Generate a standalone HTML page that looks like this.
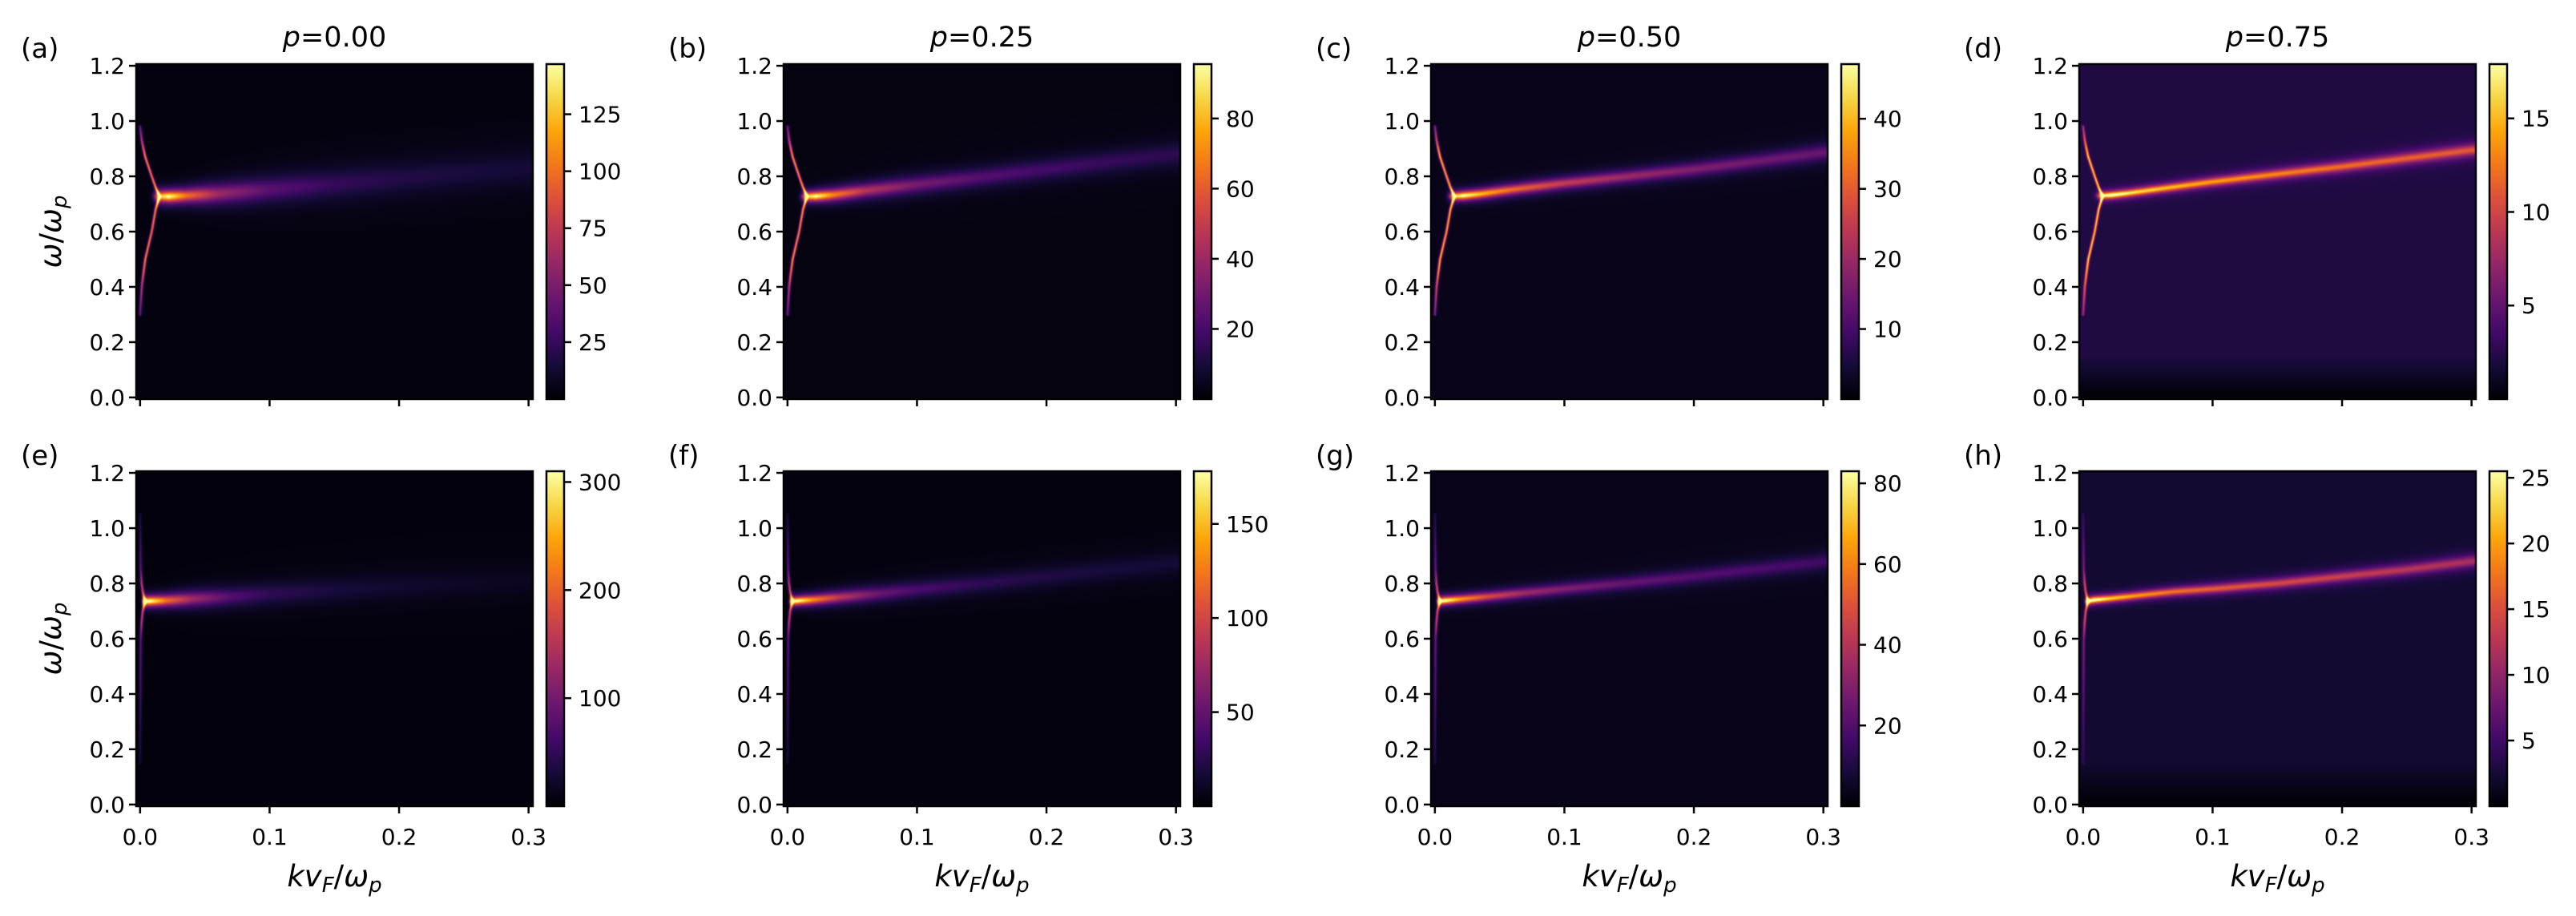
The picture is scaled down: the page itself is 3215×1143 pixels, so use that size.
<!DOCTYPE html>
<html><head><meta charset="utf-8">
<style>
html,body{margin:0;padding:0;background:#fff;}
#fig{position:relative;width:3215px;height:1143px;overflow:hidden;background:#fff;}
canvas{position:absolute;}
svg{position:absolute;left:0;top:0;}
text{font-family:"DejaVu Sans","Liberation Sans",sans-serif;fill:#000;}
</style></head>
<body>
<div id="fig">
<svg id="ov" width="3215" height="1143">
<defs>
<linearGradient id="inf" x1="0" y1="1" x2="0" y2="0">
<stop offset="0" stop-color="#000004"/><stop offset="0.1" stop-color="#160b39"/>
<stop offset="0.2" stop-color="#420a68"/><stop offset="0.3" stop-color="#6a176e"/>
<stop offset="0.4" stop-color="#932667"/><stop offset="0.5" stop-color="#bc3754"/>
<stop offset="0.6" stop-color="#dd513a"/><stop offset="0.7" stop-color="#f37819"/>
<stop offset="0.8" stop-color="#fca50a"/><stop offset="0.9" stop-color="#f6d746"/>
<stop offset="1" stop-color="#fcffa4"/>
</linearGradient>
</defs>
</svg>
</div>
<script>
// ---- data ----
const titles = ["0.00","0.25","0.50","0.75"];
const letters = ["a","b","c","d","e","f","g","h"];
const xTicks = [0, 0.1, 0.2, 0.3];
const xTickLabels = ["0.0","0.1","0.2","0.3"];
const yTicks = [0, 0.2, 0.4, 0.6, 0.8, 1.0, 1.2];
const yTickLabels = ["0.0","0.2","0.4","0.6","0.8","1.0","1.2"];
const vmaxes = [147, 95.5, 47.8, 17.9, 310, 178, 83, 25.5];
const cbTicksA = [25,50,75,100,125];
const cbTicksB = [20,40,60,80];
const cbTicksC = [10,20,30,40];
const cbTicksD = [5,10,15];
const cbTicksE = [100,200,300];
const cbTicksF = [50,100,150];
const cbTicksG = [20,40,60,80];
const cbTicksH = [5,10,15,20,25];
const bgFrac = [0.02, 0.025, 0.04, 0.12, 0.015, 0.02, 0.04, 0.085];

// top row band
const bandKTop = [0.015,0.022,0.035,0.06,0.1,0.15,0.2,0.25,0.3];
const ampA = [120,145,100,60,35,22,16,13,11];
const widA = [0.03,0.03,0.035,0.05,0.065,0.08,0.09,0.095,0.1];
const cenA = [0.727,0.727,0.73,0.737,0.752,0.772,0.792,0.812,0.83];
const ampB = [80,94,68,44,29,21,17,14,12];
const widB = [0.025,0.025,0.03,0.037,0.045,0.05,0.055,0.06,0.065];
const cenB = [0.727,0.728,0.733,0.748,0.77,0.797,0.825,0.853,0.88];
const ampC = [40,47,39,30,23,18,15,13,12];
const widC = [0.022,0.022,0.024,0.027,0.03,0.033,0.036,0.04,0.043];
const cenC = [0.728,0.73,0.736,0.752,0.775,0.8,0.825,0.855,0.886];
const ampD = [15,17.5,15,13.5,12,11,10,9.5,9];
const widD = [0.018,0.018,0.019,0.02,0.022,0.024,0.026,0.028,0.03];
const cenD = [0.73,0.732,0.739,0.755,0.78,0.808,0.835,0.865,0.895];
// top row fork
const forkKTop = [0,0.0013,0.0026,0.004,0.009,0.012,0.015];
const forkUpTop = [0.98,0.93,0.9,0.87,0.8,0.76,0.728];
const forkLoTop = [0.3,0.4,0.45,0.5,0.6,0.68,0.728];
const forkAmpTop = [0.35,0.6,0.8,0.9,0.85,0.9,0.95];

// bottom row band
const bandKBot = [0.003,0.008,0.02,0.04,0.07,0.1,0.15,0.2,0.25,0.3];
const ampE = [300,310,210,130,70,45,28,20,15,12];
const widE = [0.025,0.025,0.03,0.04,0.05,0.06,0.07,0.08,0.085,0.09];
const cenE = [0.735,0.736,0.738,0.744,0.752,0.762,0.776,0.79,0.8,0.81];
const ampF = [170,178,130,85,50,35,24,18,15,13];
const widF = [0.022,0.022,0.026,0.032,0.04,0.046,0.052,0.058,0.062,0.066];
const cenF = [0.735,0.737,0.741,0.75,0.763,0.778,0.8,0.825,0.85,0.875];
const ampG = [78,83,62,45,32,26,20,17,15,13];
const widG = [0.02,0.02,0.022,0.025,0.028,0.031,0.035,0.039,0.042,0.045];
const cenG = [0.735,0.738,0.743,0.752,0.766,0.78,0.802,0.826,0.852,0.878];
const ampH = [24,25.5,21,18,15.5,14,12.5,11.5,10.5,9.5];
const widH = [0.018,0.018,0.019,0.02,0.022,0.024,0.026,0.028,0.03,0.032];
const cenH = [0.735,0.74,0.745,0.755,0.77,0.78,0.8,0.825,0.85,0.88];
// bottom row fork
const forkKBot = [0,0.0005,0.0012,0.002,0.003,0.004];
const forkUpBot = [1.05,0.85,0.8,0.77,0.75,0.737];
const forkLoBot = [0.15,0.6,0.66,0.7,0.72,0.737];
const forkAmpBot = [0.1,0.35,0.65,0.7,0.75,0.8];

// ---- layout ----
const lefts = [170, 978, 1786, 2595];
const tops = [80, 588];
const PW = 495, PH = 418;
const X0 = -0.003, X1 = 0.3033, Y0 = -0.006, Y1 = 1.206;

const panels = [
 {amp:ampA,wid:widA,cen:cenA,k:bandKTop,fk:forkKTop,fu:forkUpTop,fl:forkLoTop,fa:forkAmpTop,fp:115,cb:cbTicksA},
 {amp:ampB,wid:widB,cen:cenB,k:bandKTop,fk:forkKTop,fu:forkUpTop,fl:forkLoTop,fa:forkAmpTop,fp:78,cb:cbTicksB},
 {amp:ampC,wid:widC,cen:cenC,k:bandKTop,fk:forkKTop,fu:forkUpTop,fl:forkLoTop,fa:forkAmpTop,fp:42,cb:cbTicksC},
 {amp:ampD,wid:widD,cen:cenD,k:bandKTop,fk:forkKTop,fu:forkUpTop,fl:forkLoTop,fa:forkAmpTop,fp:15.5,cb:cbTicksD},
 {amp:ampE,wid:widE,cen:cenE,k:bandKBot,fk:forkKBot,fu:forkUpBot,fl:forkLoBot,fa:forkAmpBot,fp:230,cb:cbTicksE},
 {amp:ampF,wid:widF,cen:cenF,k:bandKBot,fk:forkKBot,fu:forkUpBot,fl:forkLoBot,fa:forkAmpBot,fp:130,cb:cbTicksF},
 {amp:ampG,wid:widG,cen:cenG,k:bandKBot,fk:forkKBot,fu:forkUpBot,fl:forkLoBot,fa:forkAmpBot,fp:62,cb:cbTicksG},
 {amp:ampH,wid:widH,cen:cenH,k:bandKBot,fk:forkKBot,fu:forkUpBot,fl:forkLoBot,fa:forkAmpBot,fp:19,cb:cbTicksH}
];

const infStops = [[0,0,4],[22,11,57],[66,10,104],[106,23,110],[147,38,103],[188,55,84],[221,81,58],[243,120,25],[252,165,10],[246,215,70],[252,255,164]];
function inferno(t){
  t = Math.max(0, Math.min(1, t));
  const s = t*10, i = Math.min(9, Math.floor(s)), f = s - i;
  const a = infStops[i], b = infStops[i+1];
  return [a[0]+(b[0]-a[0])*f, a[1]+(b[1]-a[1])*f, a[2]+(b[2]-a[2])*f];
}
function interp(xs, ys, x){
  if (x <= xs[0]) return ys[0];
  for (let i=1;i<xs.length;i++) if (x <= xs[i]) { const f=(x-xs[i-1])/(xs[i]-xs[i-1]); return ys[i-1]+(ys[i]-ys[i-1])*f; }
  return ys[ys.length-1];
}
const xScale = k => (k - X0) / (X1 - X0) * PW;
const yScale = w => PH - (w - Y0) / (Y1 - Y0) * PH;

const fig = document.getElementById('fig');
const svg = document.getElementById('ov');
const NS = 'http://www.w3.org/2000/svg';
function mk(tag, attrs, txt){ const e=document.createElementNS(NS,tag); for (const k in attrs) e.setAttribute(k, attrs[k]); if (txt!==undefined) e.textContent=txt; svg.appendChild(e); return e; }

panels.forEach((p, idx) => {
  const col = idx % 4, row = Math.floor(idx/4);
  const L = lefts[col], T = tops[row];
  const vmax = vmaxes[idx];
  const cv = document.createElement('canvas');
  cv.width = PW; cv.height = PH;
  cv.style.left = L+'px'; cv.style.top = T+'px';
  
  
  fig.insertBefore(cv, svg);
  const ctx = cv.getContext('2d');
  const img = ctx.createImageData(PW, PH);
  const up = p.fk.map((k,i)=>[xScale(k), yScale(p.fu[i]), p.fa[i]]);
  const lo = p.fk.map((k,i)=>[xScale(k), yScale(p.fl[i]), p.fa[i]]);
  const segs = [];
  for (let i=1;i<up.length;i++){ segs.push([up[i-1],up[i]]); segs.push([lo[i-1],lo[i]]); }
  const forkMaxX = xScale(p.fk[p.fk.length-1]) + 8;
  const k0 = p.k[0];
  for (let px=0; px<PW; px++){
    const k = X0 + (px+0.5)/PW*(X1-X0);
    let A = interp(p.k, p.amp, k), C = interp(p.k, p.cen, k), W = interp(p.k, p.wid, k);
    if (k < k0) A *= Math.exp(-Math.pow((k-k0)/(row===0?0.004:0.0015),2));
    for (let py=0; py<PH; py++){
      const w = Y0 + (PH-py-0.5)/PH*(Y1-Y0);
      let bg = bgFrac[idx]*vmax;
      if (idx===3 || idx===7) bg *= Math.min(1, Math.max(0.1, w/0.15));
      const d = (w-C)/W;
      let v = bg + A/(1+d*d*2.5)*Math.exp(-0.3*d*d);
      if (px < forkMaxX){
        let best = 1e9, ba = 0;
        for (const s of segs){
          const ax=s[0][0], ay=s[0][1], bx=s[1][0], by=s[1][1];
          const dx=bx-ax, dy=by-ay, l2=dx*dx+dy*dy;
          let t = l2>0 ? ((px+0.5-ax)*dx+(py+0.5-ay)*dy)/l2 : 0;
          t = Math.max(0, Math.min(1, t));
          const qx=ax+t*dx-(px+0.5), qy=ay+t*dy-(py+0.5);
          const dd=qx*qx+qy*qy;
          if (dd<best){ best=dd; ba=s[0][2]+(s[1][2]-s[0][2])*t; }
        }
        v += p.fp*ba*Math.exp(-best/(2*1.2*1.2));
      }
      const c = inferno(v/vmax);
      const o = (py*PW+px)*4;
      img.data[o]=c[0]; img.data[o+1]=c[1]; img.data[o+2]=c[2]; img.data[o+3]=255;
    }
  }
  ctx.putImageData(img, 0, 0);

  const fr = mk('rect',{x:L,y:T,width:PW,height:PH,fill:'none',stroke:'#000','stroke-width':2.5});
  
  
  yTicks.forEach((v,i)=>{
    const y = T + yScale(v);
    const tl = mk('line',{x1:L-9,x2:L,y1:y,y2:y,stroke:'#000','stroke-width':2.5});
    
    
    const tx = mk('text',{x:L-14,y:y+10,'font-size':28,'text-anchor':'end'}, yTickLabels[i]);
    
    
  });
  xTicks.forEach((v,i)=>{
    const x = L + xScale(v);
    const tl = mk('line',{x1:x,x2:x,y1:T+PH,y2:T+PH+9,stroke:'#000','stroke-width':2.5});
    
    
    if (row===1){
      const tx = mk('text',{x:x,y:T+PH+48,'font-size':28,'text-anchor':'middle'}, xTickLabels[i]);
      
      
    }
  });
  const cbx = L+512, cbw = 22;
  const cb = mk('rect',{x:cbx,y:T,width:cbw,height:PH,fill:'url(#inf)',stroke:'#000','stroke-width':2.5});
  
  
  p.cb.forEach(v=>{
    const y = T + PH - v/vmax*PH;
    const tl = mk('line',{x1:cbx+cbw,x2:cbx+cbw+9,y1:y,y2:y,stroke:'#000','stroke-width':2.5});
    
    
    const tx = mk('text',{x:cbx+cbw+18,y:y+10,'font-size':28}, String(v));
    
    
  });
  const lt = mk('text',{x:L-144,y:T-8,'font-size':34}, '('+letters[idx]+')');
  
  
  if (row===0){
    const t = mk('text',{x:L+PW/2,y:T-22,'font-size':35,'text-anchor':'middle'});
    
    
    t.innerHTML = '<tspan font-style="italic">p</tspan>=' + titles[col];
  } else {
    const t = mk('text',{x:L+PW/2,y:T+PH+100,'font-size':37,'text-anchor':'middle'});
    
    
    t.innerHTML = '<tspan font-style="italic">kv</tspan><tspan font-style="italic" font-size="26" dy="7">F</tspan><tspan dy="-7">/</tspan><tspan font-style="italic">ω</tspan><tspan font-style="italic" font-size="26" dy="7">p</tspan>';
  }
  if (col===0){
    const cy = T+PH/2;
    const t = mk('text',{x:0,y:0,'font-size':37,'text-anchor':'middle',transform:'translate(76,'+cy+') rotate(-90)'});
    
    
    t.innerHTML = '<tspan font-style="italic">ω</tspan>/<tspan font-style="italic">ω</tspan><tspan font-style="italic" font-size="26" dy="7">p</tspan>';
  }
});
</script>
</body></html>
